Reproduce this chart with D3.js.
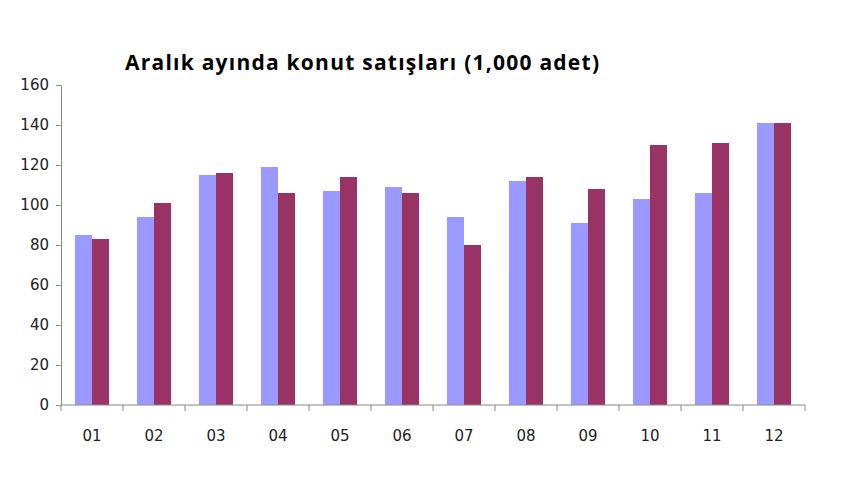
<!DOCTYPE html><html><head><meta charset="utf-8"><script src="https://cdn.jsdelivr.net/npm/d3@7"></script>
<style>body{margin:0;background:#fff}</style></head><body><svg id="c" width="860" height="480"></svg>
<script>
const categories=["01","02","03","04","05","06","07","08","09","10","11","12"];
const series1=[85,94,115,119,107,109,94,112,91,103,106,141];
const series2=[83,101,116,106,114,106,80,114,108,130,131,141];
const yTicks=[0,20,40,60,80,100,120,140,160];
const svg=d3.select("#c");
const x=d3.scaleBand().domain(categories).range([61,805]).paddingInner(0.45).paddingOuter(0.225);
const y=d3.scaleLinear().domain([0,160]).range([405,85]);
const bw=x.bandwidth()/2;
svg.append("text").attr("x",362).attr("y",70).attr("text-anchor","middle").attr("font-family","Open Sans, sans-serif").attr("font-weight","bold").attr("font-size",21).attr("textLength",474).text("Aralık ayında konut satışları (1,000 adet)");
const g1=svg.append("g");
g1.selectAll("rect.a").data(categories).join("rect").attr("x",d=>x(d)).attr("y",(d,i)=>y(series1[i])).attr("width",bw).attr("height",(d,i)=>y(0)-y(series1[i])).attr("fill","#9999ff");
g1.selectAll("rect.b").data(categories).join("rect").attr("x",d=>x(d)+bw).attr("y",(d,i)=>y(series2[i])).attr("width",bw).attr("height",(d,i)=>y(0)-y(series2[i])).attr("fill","#993366");
const ya=svg.append("g").attr("transform","translate(61,0)").call(d3.axisLeft(y).tickValues(yTicks).tickSize(5).tickSizeOuter(0));
ya.selectAll("text").attr("font-family","DejaVu Sans, sans-serif").attr("font-size",15).attr("fill","#222").attr("dx",-4);
ya.selectAll("path,line").attr("stroke","#888");
const xa=svg.append("g").attr("transform","translate(0,405)");
xa.append("line").attr("x1",61).attr("x2",805).attr("stroke","#888");
xa.selectAll("line.t").data(d3.range(13)).join("line").attr("x1",i=>61+i*(744/12)).attr("x2",i=>61+i*(744/12)).attr("y1",0).attr("y2",6).attr("stroke","#888");
xa.selectAll("text").data(categories).join("text").attr("x",d=>x(d)+x.bandwidth()/2).attr("y",36).attr("text-anchor","middle").attr("font-family","DejaVu Sans, sans-serif").attr("font-size",15).attr("fill","#222").text(d=>d);
</script></body></html>
